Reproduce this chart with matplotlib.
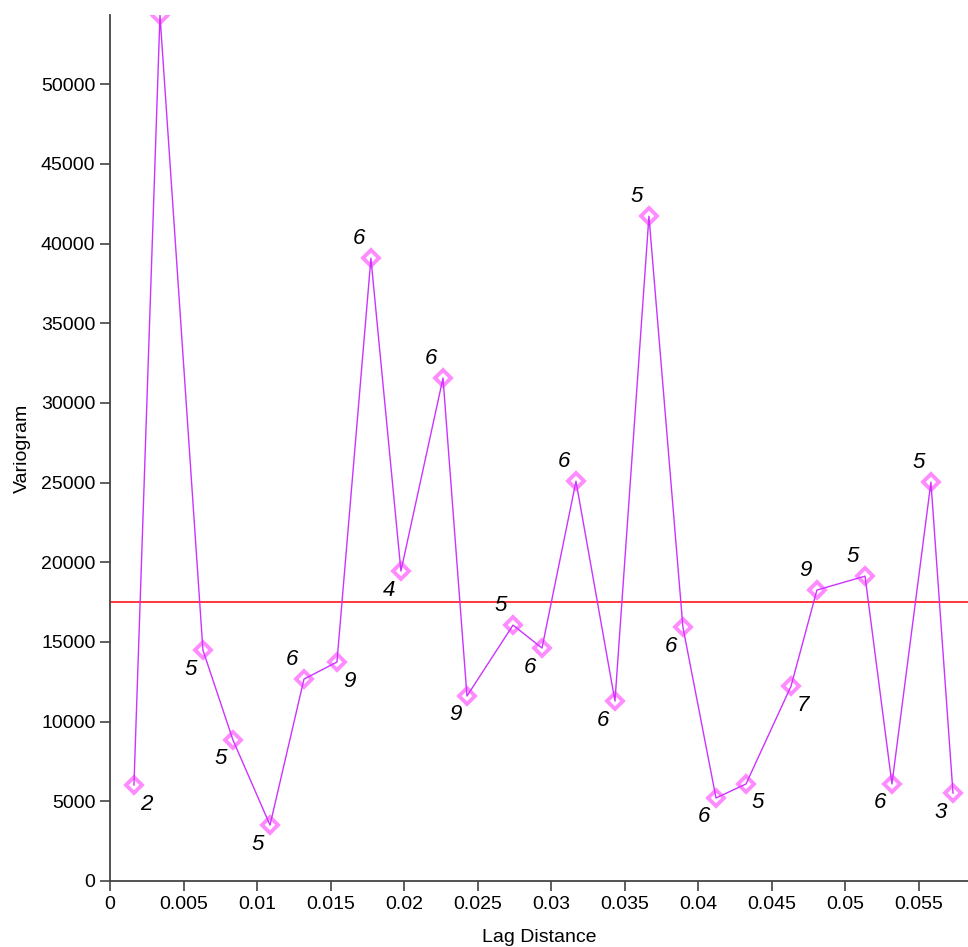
import matplotlib
matplotlib.use("Agg")
import matplotlib.pyplot as plt

plt.rcParams['font.family'] = ['Liberation Sans', 'DejaVu Sans']

# experimental variogram: lag centre, semivariance, number of pairs
lag = [0.00163, 0.0034, 0.00632, 0.00836, 0.01088, 0.01319, 0.01543, 0.01774,
       0.01978, 0.02264, 0.02427, 0.0274, 0.02937, 0.03168, 0.03433, 0.03664,
       0.03895, 0.0412, 0.04324, 0.0463, 0.04806, 0.05133, 0.05316, 0.05581,
       0.05731]
gamma = [6020, 54350, 14490, 8850, 3510, 12670, 13740, 39080,
         19450, 31560, 11610, 16060, 14620, 25090, 11290, 41720,
         15930, 5210, 6090, 12230, 18260, 19130, 6090, 25030,
         5520]
pairs = [2, 4, 5, 5, 5, 6, 9, 6,
         4, 6, 9, 5, 6, 6, 6, 5,
         6, 6, 5, 7, 9, 5, 6, 5,
         3]
# where each pair count sits relative to its point (None = not drawn)
side = ['br', None, 'bl', 'bl', 'bl', 'al', 'br', 'al',
        'bl', 'al', 'bl', 'al', 'bl', 'al', 'bl', 'al',
        'bl', 'bl', 'br', 'br', 'al', 'al', 'bl', 'al',
        'bl']
sill = 17480

offsets = {'br': (12, -19), 'bl': (-12, -19), 'al': (-12, 20)}

fig = plt.figure(figsize=(9.68, 9.47), dpi=100)
ax = fig.add_axes([0.1136, 0.0697, 0.8864, 0.9145])

ax.plot(lag, gamma, linestyle='none', marker='D', ms=8, mfc='white',
        mec='#ff8cff', mew=2.8, zorder=2)
ax.plot(lag, gamma, color='#cc33ff', lw=1.0, zorder=3)
ax.axhline(sill, color='#ff0000', lw=1.1, zorder=1)

for x, y, n, s in zip(lag, gamma, pairs, side):
    if s is None:
        continue
    ax.annotate(str(n), (x, y), xytext=offsets[s], textcoords='offset pixels',
                ha='center', va='center', fontsize=16, style='italic')

ax.set_xlim(0, 0.05833)
ax.set_ylim(0, 54350)
ax.set_xticks([0, 0.005, 0.01, 0.015, 0.02, 0.025, 0.03, 0.035, 0.04,
               0.045, 0.05, 0.055])
ax.set_xticklabels(['0', '0.005', '0.01', '0.015', '0.02', '0.025', '0.03',
                    '0.035', '0.04', '0.045', '0.05', '0.055'])
ax.set_yticks(range(0, 50001, 5000))

for s in ['top', 'right']:
    ax.spines[s].set_visible(False)
for s in ['left', 'bottom']:
    ax.spines[s].set_color('#444444')
    ax.spines[s].set_linewidth(1.3)
ax.tick_params(direction='out', length=7, width=1.2, color='#444444',
               labelsize=14, pad=3.5)

ax.set_xlabel('Lag Distance', fontsize=14, labelpad=12)
ax.set_ylabel('Variogram', fontsize=14, labelpad=7)

fig.savefig('out.png', dpi=100)
